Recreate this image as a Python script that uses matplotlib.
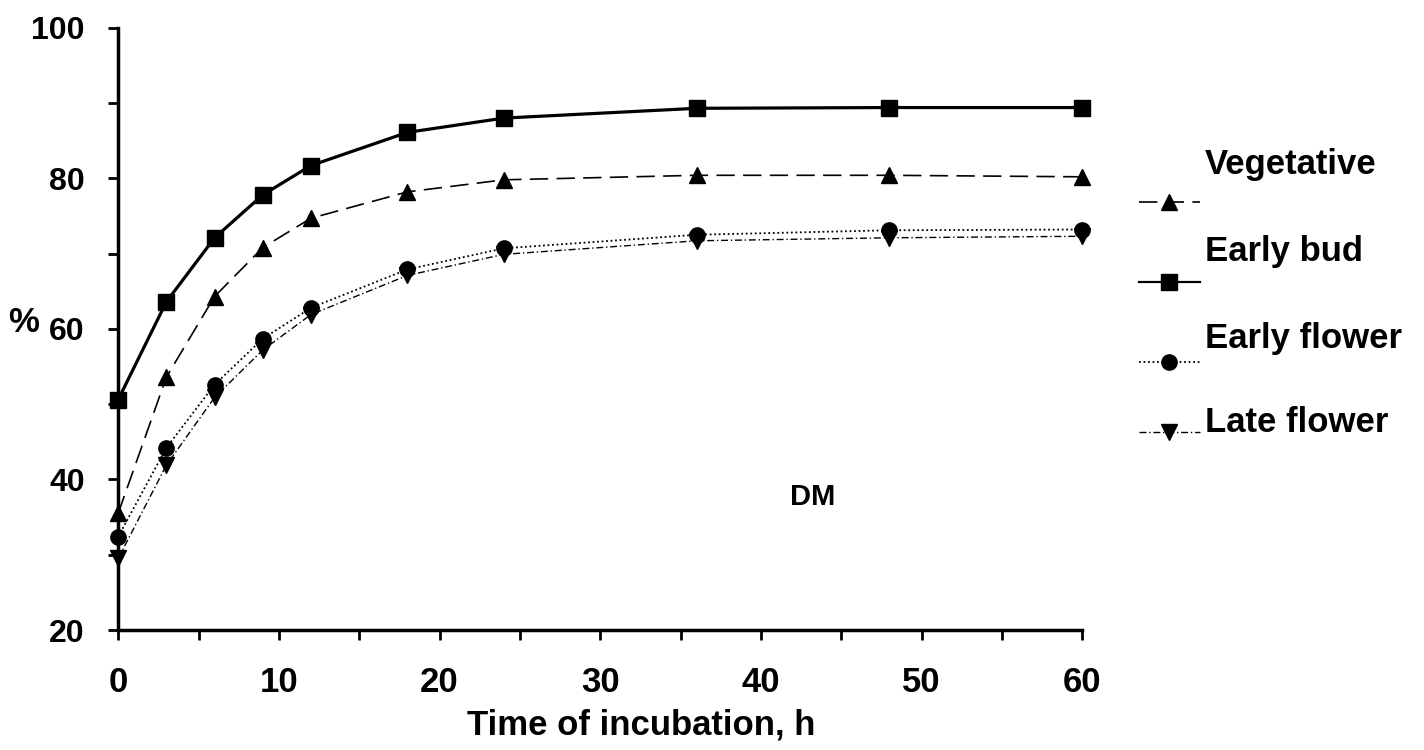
import matplotlib
matplotlib.use("Agg")
import matplotlib.pyplot as plt
from matplotlib.ticker import MultipleLocator

plt.rcParams['font.family'] = ['Liberation Sans', 'DejaVu Sans']
plt.rcParams['font.weight'] = 'bold'

# data
hours = [0, 3, 6, 9, 12, 18, 24, 36, 48, 60]
vegetative = [35.5, 53.6, 64.3, 70.8, 74.7, 78.2, 79.8, 80.4, 80.4, 80.2]
early_bud = [50.6, 63.6, 72.1, 77.8, 81.7, 86.1, 88.0, 89.3, 89.4, 89.4]
early_flower = [32.4, 44.2, 52.6, 58.7, 62.8, 67.9, 70.7, 72.5, 73.1, 73.2]
late_flower = [29.5, 41.9, 50.9, 57.2, 61.9, 67.1, 69.9, 71.7, 72.1, 72.3]
names = ['Vegetative', 'Early bud', 'Early flower', 'Late flower']

styles = [
    dict(ls=(0, (11, 5)), lw=1.2, marker='^', ms=12),
    dict(ls='-', lw=2.3, marker='s', ms=11),
    dict(ls=(0, (1, 1.5)), lw=1.3, marker='o', ms=11),
    dict(ls=(0, (5, 2, 1, 2)), lw=1.0, marker='v', ms=12),
]
series = [vegetative, early_bud, early_flower, late_flower]

fig = plt.figure(figsize=(14.24, 7.5), dpi=100)
ax = fig.add_axes([0.083, 0.16, 0.677, 0.803])

for vals, st in zip(series, styles):
    ax.plot(hours, vals, color='black', clip_on=False, zorder=3, **st)

ax.set_xlim(0, 60)
ax.set_ylim(20, 100)
ax.xaxis.set_major_locator(MultipleLocator(10))
ax.xaxis.set_minor_locator(MultipleLocator(5))
ax.yaxis.set_major_locator(MultipleLocator(20))
ax.yaxis.set_minor_locator(MultipleLocator(10))
ax.spines['top'].set_visible(False)
ax.spines['right'].set_visible(False)
ax.spines['left'].set_linewidth(2.5)
ax.spines['bottom'].set_linewidth(2.5)
ax.tick_params(which='both', direction='out', width=2, length=7)
ax.tick_params(axis='x', labelsize=25, pad=19)
ax.tick_params(axis='y', labelsize=23, pad=17)
for lab in ax.get_xticklabels() + ax.get_yticklabels():
    lab.set_fontweight('bold')

ax.set_xlabel('Time of incubation, h', fontsize=25, fontweight='bold')
ax.xaxis.set_label_coords(0.542, -0.13)
ax.set_ylabel('%', fontsize=25, fontweight='bold', rotation=0, ha='center', va='center')
ax.yaxis.set_label_coords(-0.098, 0.51)
ax.text(43.2, 37.7, 'DM', fontsize=21, fontweight='bold', ha='center', va='center')

# legend: label above a short line sample
leg_y = [0.731, 0.624, 0.517, 0.424]
txt_y = [0.781, 0.664, 0.549, 0.437]
for i, (name, st) in enumerate(zip(names, styles)):
    fig.add_artist(plt.Line2D([0.80, 0.821, 0.843], [leg_y[i]] * 3, color='black',
                              ls=st['ls'], lw=min(st['lw'], 1.6), marker=st['marker'],
                              ms=st['ms'], markevery=[1], transform=fig.transFigure))
    fig.text(0.846, txt_y[i], name, fontsize=25, fontweight='bold',
             va='center', ha='left')

fig.savefig('out.png', dpi=100)
